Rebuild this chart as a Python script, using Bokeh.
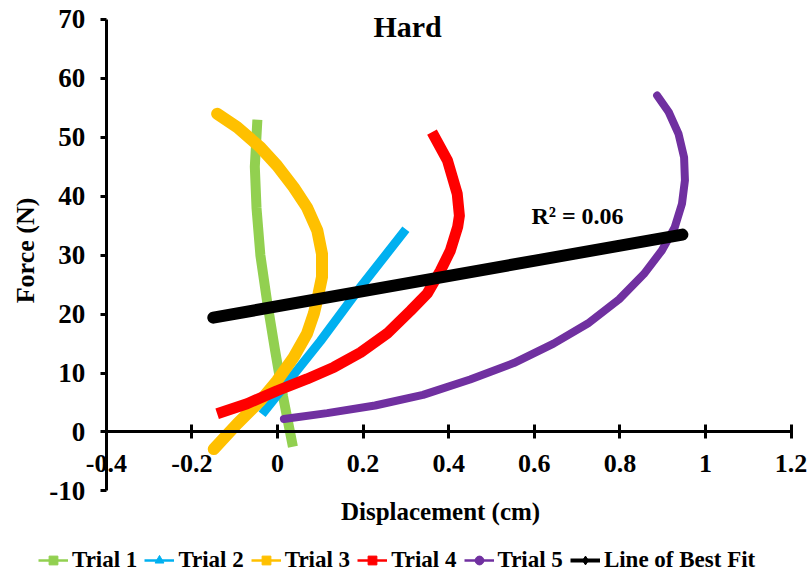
import math
from bokeh.plotting import figure
from bokeh.models import Range1d, FixedTicker, Label, Legend, LegendItem
from bokeh.embed import file_html
from bokeh.resources import INLINE

# ---- data ----
x_ticks = [-0.4, -0.2, 0, 0.2, 0.4, 0.6, 0.8, 1, 1.2]
x_tick_labels = ["-0.4", "-0.2", "0", "0.2", "0.4", "0.6", "0.8", "1", "1.2"]
y_ticks = [-10, 0, 10, 20, 30, 40, 50, 60, 70]
y_tick_labels = ["-10", "0", "10", "20", "30", "40", "50", "60", "70"]

trial1_x = [-0.047, -0.053, -0.049, -0.040, -0.024, -0.006, 0.013, 0.036]
trial1_y = [53.0, 45.0, 38.0, 30.0, 22.0, 14.0, 6.0, -2.5]

trial2_x = [-0.036, 0.100, 0.193, 0.300]
trial2_y = [3.0, 15.4, 24.5, 34.4]

trial3_x = [-0.141, -0.094, -0.040, -0.001, 0.038, 0.069, 0.093, 0.104, 0.104,
            0.096, 0.085, 0.069, 0.038, -0.001, -0.040, -0.094, -0.149]
trial3_y = [54.0, 51.7, 48.3, 45.2, 41.5, 38.1, 34.2, 30.2, 26.3,
            23.5, 20.1, 16.7, 12.7, 8.7, 5.3, 1.4, -2.9]

trial4_x = [-0.141, -0.071, -0.001, 0.069, 0.132, 0.194, 0.256, 0.311, 0.350,
            0.381, 0.404, 0.421, 0.425, 0.420, 0.397, 0.361]
trial4_y = [3.1, 4.8, 7.0, 9.0, 11.0, 13.5, 16.7, 20.6, 23.5,
            27.4, 30.8, 34.8, 36.7, 40.4, 46.1, 50.9]

trial5_x = [0.015, 0.116, 0.228, 0.340, 0.450, 0.552, 0.645, 0.725, 0.798,
            0.856, 0.898, 0.928, 0.945, 0.952, 0.950, 0.937, 0.914, 0.887]
trial5_y = [2.2, 3.2, 4.5, 6.3, 8.9, 11.7, 15.0, 18.4, 22.5,
            26.8, 30.8, 34.7, 38.7, 42.7, 46.6, 50.6, 54.3, 57.1]

fit_x = [-0.150, 0.946]
fit_y = [19.4, 33.5]

series_names = ["Trial 1", "Trial 2", "Trial 3", "Trial 4", "Trial 5", "Line of Best Fit"]
r_squared_text = "R² = 0.06"
title_text = "Hard"
x_label = "Displacement (cm)"
y_label = "Force (N)"

FONT = "Liberation Serif"
NAN = float("nan")

# frame fills the whole canvas; axes are placed at fixed locations inside it
p = figure(
    width=811, height=578,
    x_range=Range1d(-0.6472, 1.2477), y_range=Range1d(-24.86, 73.22),
    output_backend="svg", toolbar_location=None,
    min_border_left=0, min_border_right=0, min_border_top=0, min_border_bottom=0,
)
p.title.visible = False
p.outline_line_color = None
p.xgrid.visible = False
p.ygrid.visible = False
p.background_fill_color = "white"
p.border_fill_color = "white"

xa = p.xaxis[0]
xa.fixed_location = 0
xa.bounds = (-0.4, 1.2)
xa.ticker = FixedTicker(ticks=x_ticks)
xa.major_label_overrides = {t: l for t, l in zip(x_ticks, x_tick_labels)}
xa.axis_line_width = 3
xa.major_tick_line_width = 3
xa.major_tick_in = 7
xa.major_tick_out = 7
xa.minor_tick_line_color = None
xa.major_label_standoff = 16
xa.major_label_text_font = FONT
xa.major_label_text_font_style = "bold"
xa.major_label_text_font_size = "26px"
xa.major_label_text_color = "black"

ya = p.yaxis[0]
ya.fixed_location = -0.4
ya.bounds = (-10, 70)
ya.ticker = FixedTicker(ticks=y_ticks)
ya.major_label_overrides = {t: l for t, l in zip(y_ticks, y_tick_labels)}
ya.axis_line_width = 3
ya.major_tick_line_width = 3
ya.major_tick_in = 0
ya.major_tick_out = 6
ya.minor_tick_line_color = None
ya.major_label_standoff = 15
ya.major_label_text_font = FONT
ya.major_label_text_font_style = "bold"
ya.major_label_text_font_size = "27px"
ya.major_label_text_color = "black"

colors = ["#92D050", "#00B0F0", "#FFC000", "#FF0000", "#7030A0", "#000000"]
widths = [10, 9, 12, 11, 8, 12]
caps = ["butt", "butt", "round", "butt", "round", "round"]
xs = [trial1_x, trial2_x, trial3_x, trial4_x, trial5_x, fit_x]
ys = [trial1_y, trial2_y, trial3_y, trial4_y, trial5_y, fit_y]

for x, y, c, w, cap in zip(xs, ys, colors, widths, caps):
    p.line(x, y, line_color=c, line_width=w, line_cap=cap, line_join="round")

# legend-only renderers (one NaN point each, so nothing shows in the plot)
markers = ["square", "triangle", "square", "square", "circle", "diamond"]
msizes = [7, 8, 7, 7, 7, 12]
lwidths = [2.5, 2.5, 2.5, 2.5, 2.5, 4]
items = []
for name, c, m, ms, lw in zip(series_names, colors, markers, msizes, lwidths):
    lr = p.line([NAN], [NAN], line_color=c, line_width=lw)
    sr = p.scatter([NAN], [NAN], marker=m, size=ms, fill_color=c, line_color=c)
    items.append(LegendItem(label=name, renderers=[lr, sr]))

legend = Legend(
    items=items, orientation="horizontal", location=(38, 5),
    label_text_font=FONT, label_text_font_style="bold", label_text_font_size="23px",
    label_text_color="black", glyph_width=30, glyph_height=22, label_standoff=4,
    spacing=7, padding=0, margin=0, border_line_color=None, background_fill_alpha=0,
    label_height=22,
)
p.add_layout(legend, "center")

def txt(x, y, text, size, angle=0.0):
    p.add_layout(Label(x=x, y=y, text=text, text_align="center", text_baseline="middle",
                       angle=angle, text_font=FONT, text_font_style="bold",
                       text_font_size=size, text_color="black"))

txt(0.304, 68.8, title_text, "30px")
txt(0.701, 36.7, r_squared_text, "24px")
txt(0.381, -13.5, x_label, "25px")
txt(-0.589, 30.8, y_label, "26px", angle=math.pi / 2)

open("out.html", "w").write(file_html(p, INLINE))
